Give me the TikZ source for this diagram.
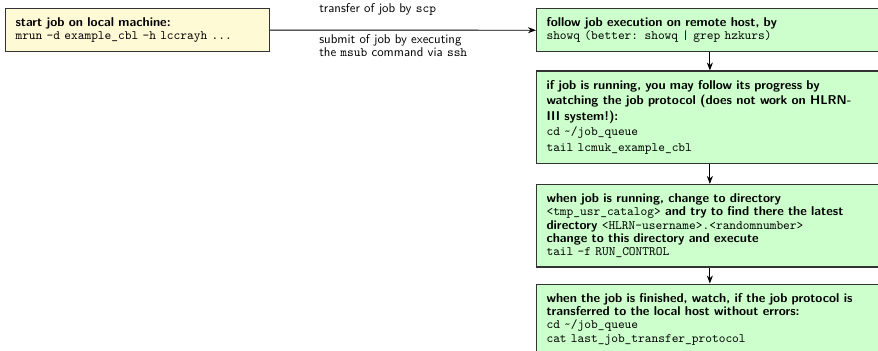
\documentclass[tikz,border=0pt]{standalone}
\usetikzlibrary{positioning}
\usetikzlibrary{arrows.meta}

\definecolor{localfill}{HTML}{FFFAD6}
\definecolor{remotefill}{HTML}{CCFFCC}

\tikzset{
  jobbox/.style={draw=black!80, line width=0.8pt, align=left,
    inner xsep=7.5pt, inner ysep=6.8pt,
    font=\sffamily\fontsize{9.6}{10}\selectfont},
  localbox/.style={jobbox, fill=localfill, text width=183pt},
  remotebox/.style={jobbox, fill=remotefill, text width=245pt},
  arrowlbl/.style={inner sep=0pt, align=left, font=\sffamily\fontsize{9.6}{10}\selectfont},
  jobarrow/.style={-{Stealth[length=6pt, width=4.5pt]}, line width=0.7pt},
}

\begin{document}
\begin{tikzpicture}[x=0.75pt, y=-0.75pt]

\useasboundingbox (0,0) rectangle (878,350);

\node[localbox, anchor=north west] (local) at (5,8)
  {\textbf{start job on local machine:}\\
   \texttt{mrun -d example\_cbl -h lccrayh ...}};

\node[remotebox, anchor=north west] (follow) at (536,8)
  {\textbf{follow job execution on remote host, by}\\
   \texttt{showq (better: showq | grep hzkurs)}};
\node[remotebox, below=13.5pt of follow] (progress)
  {\textbf{if job is running, you may follow its progress by}\\[1.7pt]
   \textbf{watching the job protocol (does not work on HLRN-}\\[1.7pt]
   \textbf{III system!):}\\[1.7pt]
   \texttt{cd \textasciitilde/job\_queue}\\[1.7pt]
   \texttt{tail lcmuk\_example\_cbl}};
\node[remotebox, below=15pt of progress] (rundir)
  {\textbf{when job is running, change to directory}\\
   \texttt{<tmp\_usr\_catalog>} \textbf{and try to find there the latest}\\
   \textbf{directory} \texttt{<HLRN-username>.<randomnumber>}\\
   \textbf{change to this directory and execute}\\
   \texttt{tail -f RUN\_CONTROL}};
\node[remotebox, below=12pt of rundir] (finished)
  {\textbf{when the job is finished, watch, if the job protocol is}\\
   \textbf{transferred to the local host without errors:}\\
   \texttt{cd \textasciitilde/job\_queue}\\
   \texttt{cat last\_job\_transfer\_protocol}};

% local -> remote
\draw[jobarrow] (local) -- (follow);
\node[arrowlbl, anchor=base west] (scplbl) at (319,12) {transfer of job by \texttt{scp}};
\node[arrowlbl, anchor=north west] (sshlbl) at (319,34)
  {submit of job by executing\\ the \texttt{msub} command via \texttt{ssh}};

\foreach \from/\to in {follow/progress, progress/rundir, rundir/finished}
  \draw[jobarrow] (\from) -- (\to);

\end{tikzpicture}
\end{document}
